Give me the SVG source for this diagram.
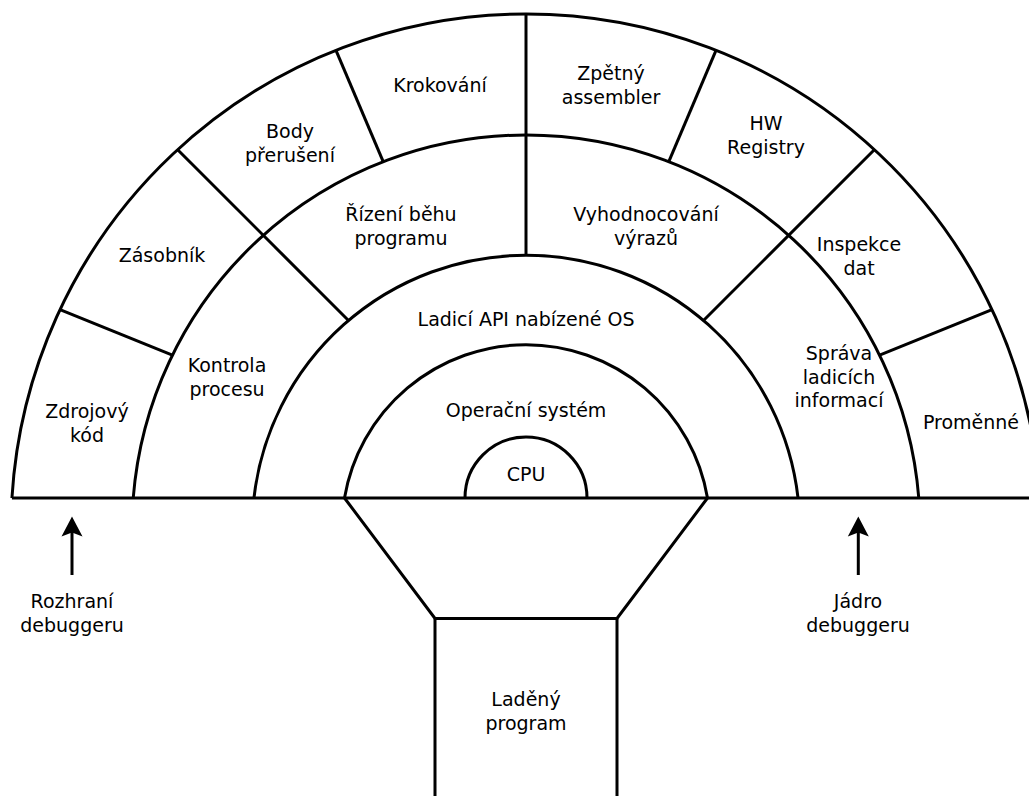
<svg xmlns="http://www.w3.org/2000/svg" width="1029" height="796" viewBox="0 0 1029 796">
<style>
.ln{fill:none;stroke:#000;stroke-width:3;stroke-linejoin:miter}
.t{font-family:"DejaVu Sans",sans-serif;font-size:19px;fill:#000;text-anchor:middle}
.ah{fill:#000;stroke:none}
</style>
<rect width="1029" height="796" fill="#fff"/>
<g id="rings">
<path class="ln" d="M11.93 498 A515 515 0 0 1 1040.07 498"/>
<path class="ln" d="M133.22 498 A394 394 0 0 1 918.78 498"/>
<path class="ln" d="M253.96 498 A273.8 273.8 0 0 1 798.04 498"/>
<path class="ln" d="M344.5 498 A184.1 184.1 0 0 1 707.5 498"/>
<path class="ln" d="M465 498 A61 61 0 0 1 587 498"/>
<path class="ln" d="M11.93 498 H1040"/>
</g>
<g id="dividers">
<path class="ln" d="M60 309.7 L172.4 355.1"/>
<path class="ln" d="M177.7 149.7 L348.5 320.5"/>
<path class="ln" d="M336 50.3 L383.3 161.8"/>
<path class="ln" d="M526 14 L526 255.2"/>
<path class="ln" d="M716 50.3 L668.7 161.8"/>
<path class="ln" d="M874.3 149.7 L703.5 320.5"/>
<path class="ln" d="M992 309.7 L879.6 355.1"/>
</g>
<g id="program-shape">
<path class="ln" d="M344.5 498 L435 618.5 L617 618.5 L707.5 498"/>
<path class="ln" d="M435 618.5 V800 M617 618.5 V800"/>
</g>
<g id="zdrojovy-kod"><text class="t" x="87" y="418"><tspan x="87">Zdrojový</tspan><tspan x="87" dy="23.5">kód</tspan></text></g>
<g id="zasobnik"><text class="t" x="162" y="262">Zásobník</text></g>
<g id="body-preruseni"><text class="t" x="290" y="138"><tspan x="290">Body</tspan><tspan x="290" dy="23.5">přerušení</tspan></text></g>
<g id="krokovani"><text class="t" x="440" y="92">Krokování</text></g>
<g id="zpetny-assembler"><text class="t" x="611" y="80"><tspan x="611">Zpětný</tspan><tspan x="611" dy="23.5">assembler</tspan></text></g>
<g id="hw-registry"><text class="t" x="766" y="130"><tspan x="766">HW</tspan><tspan x="766" dy="23.5">Registry</tspan></text></g>
<g id="inspekce-dat"><text class="t" x="859" y="251"><tspan x="859">Inspekce</tspan><tspan x="859" dy="23.5">dat</tspan></text></g>
<g id="promenne"><text class="t" x="971" y="429">Proměnné</text></g>
<g id="kontrola-procesu"><text class="t" x="227" y="372"><tspan x="227">Kontrola</tspan><tspan x="227" dy="23.5">procesu</tspan></text></g>
<g id="rizeni-behu"><text class="t" x="401" y="221"><tspan x="401">Řízení běhu</tspan><tspan x="401" dy="23.5">programu</tspan></text></g>
<g id="vyhodnocovani"><text class="t" x="646" y="221"><tspan x="646">Vyhodnocování</tspan><tspan x="646" dy="23.5">výrazů</tspan></text></g>
<g id="sprava"><text class="t" x="839" y="360"><tspan x="839">Správa</tspan><tspan x="839" dy="23.5">ladicích</tspan><tspan x="839" dy="23.5">informací</tspan></text></g>
<g id="ladici-api"><text class="t" x="526" y="325.5">Ladicí API nabízené OS</text></g>
<g id="os"><text class="t" x="526" y="416.5">Operační systém</text></g>
<g id="cpu"><text class="t" x="526" y="480.7">CPU</text></g>
<g id="ladeny-program"><text class="t" x="526" y="706"><tspan x="526">Laděný</tspan><tspan x="526" dy="23.5">program</tspan></text></g>
<g id="rozhrani"><text class="t" x="72" y="608.3"><tspan x="72">Rozhraní</tspan><tspan x="72" dy="23.5">debuggeru</tspan></text></g>
<g id="jadro"><text class="t" x="858" y="608.3"><tspan x="858">Jádro</tspan><tspan x="858" dy="23.5">debuggeru</tspan></text></g>
<g id="connectors">
<path class="ln" d="M72 531 V575"/>
<path class="ah" d="M72 516.5 L82.5 536.5 L72 532.5 L61.5 536.5 Z"/>
<path class="ln" d="M858.3 531 V575"/>
<path class="ah" d="M858.3 516.5 L868.8 536.5 L858.3 532.5 L847.8 536.5 Z"/>
</g>
</svg>
